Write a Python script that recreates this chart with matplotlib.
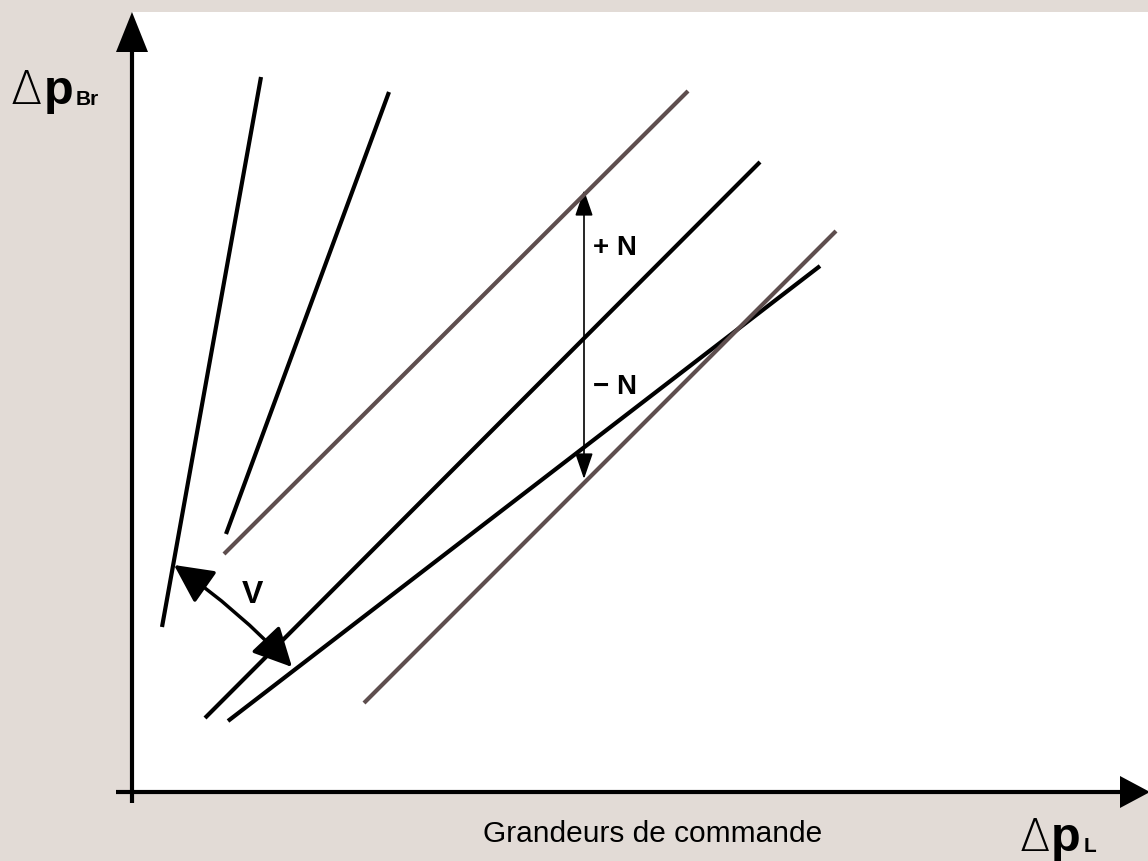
import numpy as np
import matplotlib.pyplot as plt
from matplotlib.patches import Rectangle, FancyArrowPatch

# Line segments of the diagram, in picture pixels (x0, y0, x1, y1), y pointing down
black_lines = [
    (162, 627, 261, 77),
    (226, 534, 389, 92),
    (205, 718, 760, 162),
    (228, 721, 820, 266),
]
brown_lines = [
    (224, 554, 688, 91),
    (364, 703, 836, 231),
]

# +N / -N offset arrow and the V angle arrow
n_arrow = (584, 479, 584, 190)
v_arrow = (174, 565, 292, 667)

bg = '#e2dbd6'
brown = '#5e4e4e'

fig = plt.figure(figsize=(11.48, 8.61), dpi=100, facecolor=bg)
ax = fig.add_axes([0, 0, 1, 1])
ax.set_xlim(0, 1148)
ax.set_ylim(861, 0)
ax.axis('off')

# white plot area
ax.add_patch(Rectangle((132, 12), 1148 - 132, 792 - 12, facecolor='white', edgecolor='none'))

# axes with arrow heads
ax.plot([132, 132], [803, 50], color='black', lw=3, solid_capstyle='butt')
ax.fill([116, 148, 132], [52, 52, 12], color='black', lw=0)
ax.plot([116, 1122], [792, 792], color='black', lw=3, solid_capstyle='butt')
ax.fill([1120, 1120, 1150], [776, 808, 792], color='black', lw=0)

for x0, y0, x1, y1 in black_lines:
    ax.plot([x0, x1], [y0, y1], color='black', lw=3, solid_capstyle='butt')
for x0, y0, x1, y1 in brown_lines:
    ax.plot([x0, x1], [y0, y1], color=brown, lw=3, solid_capstyle='butt')

x0, y0, x1, y1 = n_arrow
ax.add_patch(FancyArrowPatch((x0, y0), (x1, y1), arrowstyle='<|-|>,head_length=1.6,head_width=0.55',
                             mutation_scale=10, color='black', lw=1.2, shrinkA=0, shrinkB=0))

x0, y0, x1, y1 = v_arrow
ax.add_patch(FancyArrowPatch((x0, y0), (x1, y1), arrowstyle='<|-|>,head_length=1.2,head_width=0.6',
                             mutation_scale=20, color='black', lw=2.5, shrinkA=0, shrinkB=0,
                             connectionstyle='arc3,rad=-0.05'))

ax.text(593, 255, '+ N', fontsize=20, fontweight='bold', family='Liberation Sans', va='baseline')
ax.text(593, 394, '\u2212 N', fontsize=20, fontweight='bold', family='Liberation Sans', va='baseline')
ax.text(242, 603, 'V', fontsize=23, fontweight='bold', family='Liberation Sans', va='baseline')

# axis labels
ax.text(11, 104, '\u0394', fontsize=33, family='DejaVu Sans', fontweight='light', va='baseline')
ax.text(44, 104, 'p', fontsize=35, family='Liberation Sans', fontweight='bold', va='baseline')
ax.text(76, 105, 'Br', fontsize=15, family='Liberation Sans', fontweight='bold', va='baseline')

ax.text(1020, 851, '\u0394', fontsize=32, family='DejaVu Sans', fontweight='light', va='baseline')
ax.text(1051, 851, 'p', fontsize=35, family='Liberation Sans', fontweight='bold', va='baseline')
ax.text(1084, 852, 'L', fontsize=15, family='Liberation Sans', fontweight='bold', va='baseline')

ax.text(483, 842, 'Grandeurs de commande', fontsize=21.5, family='Liberation Sans', va='baseline')

plt.savefig('out.png', dpi=100, facecolor=bg)
